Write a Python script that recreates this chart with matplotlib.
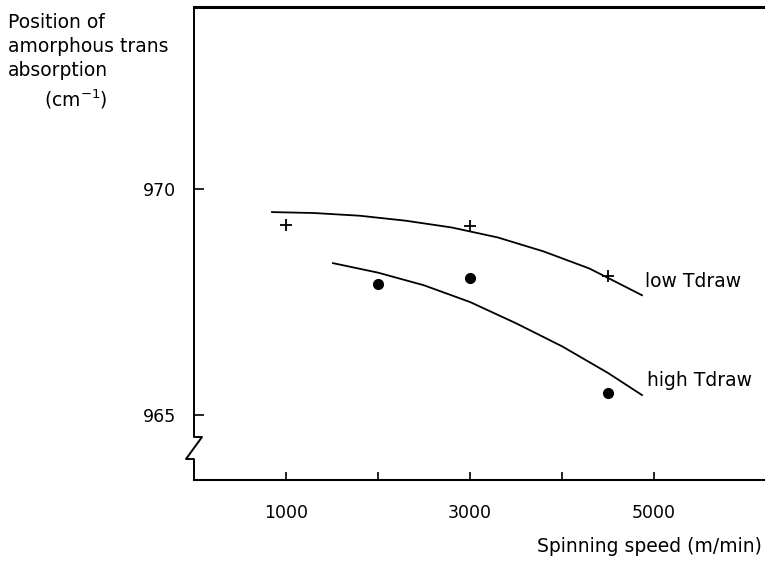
import numpy as np
import matplotlib
matplotlib.use("Agg")
import matplotlib.pyplot as plt

plt.rcParams["font.family"] = ["DejaVu Sans"]
plt.rcParams["font.size"] = 13.5

# measured points
low_speed = [1000, 3000, 4500]
low_pos = [969.2, 969.18, 968.08]
high_speed = [2000, 3000, 4500]
high_pos = [967.9, 968.03, 965.49]

# hand-drawn trend curves
low_curve_speed = [848, 1300, 1800, 2300, 2800, 3300, 3800, 4300, 4870]
low_curve_pos = [969.49, 969.47, 969.41, 969.30, 969.15, 968.93, 968.62, 968.24, 967.65]
high_curve_speed = [1511, 2000, 2500, 3000, 3500, 4000, 4500, 4870]
high_curve_pos = [968.36, 968.15, 967.87, 967.50, 967.03, 966.52, 965.93, 965.44]

xticks = [1000, 2000, 3000, 4000, 5000]
xticklabels = ["1000", "", "3000", "", "5000"]
yticks = [965, 970]

fig = plt.figure(figsize=(7.65, 5.61), dpi=100)
ax = fig.add_axes([194 / 765, 1 - 480 / 561, 1 - 194 / 765, 473 / 561])

ax.plot(low_curve_speed, low_curve_pos, color="black", lw=1.3)
ax.plot(high_curve_speed, high_curve_pos, color="black", lw=1.3)
ax.plot(low_speed, low_pos, ls="none", marker="+", ms=8, mew=1.3, color="black")
ax.plot(high_speed, high_pos, ls="none", marker="o", ms=7, color="black")

ax.set_xlim(0, 6207)
ax.set_ylim(963.56, 974.03)

ax.set_xticks(xticks)
ax.set_xticklabels(xticklabels)
ax.set_yticks(yticks)
ax.tick_params(axis="x", direction="in", length=6, width=1.2, pad=17, labelsize=12.5)
ax.tick_params(axis="y", direction="in", length=7, width=1.2, pad=13, labelsize=12.5)

ax.spines["right"].set_visible(False)
ax.spines["left"].set_visible(False)
ax.spines["top"].set_linewidth(2.2)
ax.spines["bottom"].set_linewidth(1.5)

# left axis with a break symbol near the bottom
dx = 8 / 571
y_hi = (480 - 437) / 473
y_lo = (480 - 459) / 473
ax.plot([0, 0, dx, -dx, 0, 0], [1, y_hi, y_hi, y_lo, y_lo, 0],
        transform=ax.transAxes, color="black", lw=1.4, clip_on=False)

ax.text(4902, 967.96, "low Tdraw", ha="left", va="center")
ax.text(4924, 965.77, "high Tdraw", ha="left", va="center")

fig.text(8 / 765, 1 - 22 / 561, "Position of", ha="left", va="center")
fig.text(8 / 765, 1 - 47 / 561, "amorphous trans", ha="left", va="center")
fig.text(8 / 765, 1 - 71 / 561, "absorption", ha="left", va="center")
fig.text(44 / 765, 1 - 99 / 561, "(cm$^{-1}$)", ha="left", va="center")

fig.text(762 / 765, 1 - 546 / 561, "Spinning speed (m/min)", ha="right", va="center")

fig.savefig("out.png", dpi=100)
